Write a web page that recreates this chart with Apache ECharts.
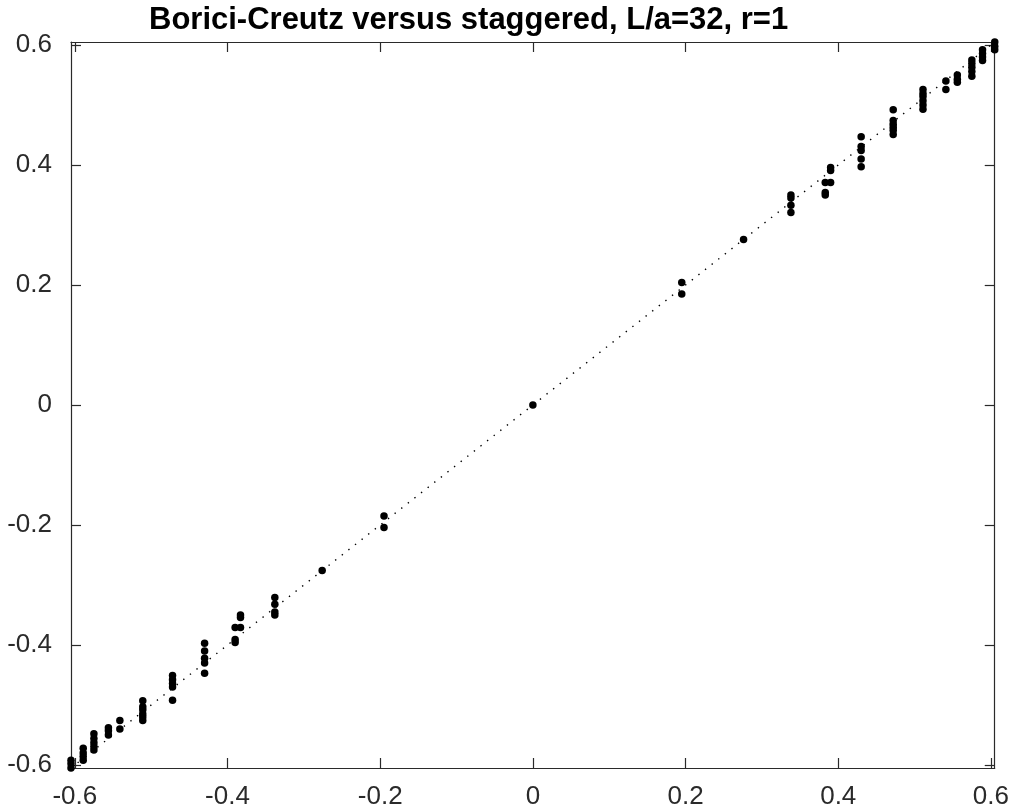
<!DOCTYPE html>
<html>
<head>
<meta charset="utf-8">
<script src="https://cdn.jsdelivr.net/npm/echarts@6/dist/echarts.min.js"></script>
<style>
  html, body { margin: 0; padding: 0; background: #fff; }
  #chart { width: 1012px; height: 811px; }
</style>
</head>
<body>
<div id="chart"></div>
<script>
// Eigenvalues: staggered (x) against Borici-Creutz (y), one entry per point
const staggered = [
  0.605, 0.605, 0.605,
  0.589, 0.589, 0.589, 0.589,
  0.575, 0.575, 0.575, 0.575, 0.575,
  0.556, 0.556, 0.556,
  0.541, 0.541,
  0.511, 0.511, 0.511, 0.511, 0.511, 0.511,
  0.472, 0.472, 0.472, 0.472, 0.472, 0.472,
  0.430, 0.430, 0.430, 0.430, 0.430,
  0.390, 0.390, 0.390,
  0.383, 0.383, 0.383,
  0.338, 0.338, 0.338, 0.338,
  0.276,
  0.195, 0.195,
  0,
  -0.195, -0.195,
  -0.276,
  -0.338, -0.338, -0.338, -0.338,
  -0.383, -0.383, -0.383,
  -0.390, -0.390, -0.390,
  -0.430, -0.430, -0.430, -0.430, -0.430,
  -0.472, -0.472, -0.472, -0.472, -0.472,
  -0.511, -0.511, -0.511, -0.511, -0.511, -0.511,
  -0.541, -0.541,
  -0.556, -0.556, -0.556,
  -0.575, -0.575, -0.575, -0.575, -0.575,
  -0.589, -0.589, -0.589, -0.589,
  -0.605, -0.605, -0.605
];
const boriciCreutz = [
  0.605, 0.598, 0.592,
  0.592, 0.586, 0.580, 0.574,
  0.575, 0.569, 0.563, 0.556, 0.548,
  0.550, 0.543, 0.538,
  0.540, 0.526,
  0.526, 0.519, 0.514, 0.507, 0.500, 0.493,
  0.492, 0.474, 0.468, 0.463, 0.458, 0.451,
  0.447, 0.431, 0.424, 0.410, 0.397,
  0.396, 0.391, 0.371,
  0.371, 0.354, 0.350,
  0.350, 0.345, 0.333, 0.321,
  0.276,
  0.204, 0.185,
  0,
  -0.185, -0.204,
  -0.276,
  -0.321, -0.332, -0.345, -0.350,
  -0.350, -0.354, -0.371,
  -0.371, -0.391, -0.396,
  -0.397, -0.410, -0.422, -0.430, -0.447,
  -0.451, -0.458, -0.464, -0.470, -0.492,
  -0.493, -0.503, -0.508, -0.515, -0.520, -0.526,
  -0.526, -0.540,
  -0.538, -0.543, -0.550,
  -0.548, -0.556, -0.563, -0.569, -0.575,
  -0.572, -0.580, -0.586, -0.592,
  -0.592, -0.598, -0.605
];
// Reference diagonal y = x across the plotted range
const diagonal = [-0.605, 0.605];
const tickValues = [-0.6, -0.4, -0.2, 0, 0.2, 0.4, 0.6];
const axisRange = [-0.605, 0.605];

const points = staggered.map((x, i) => [x, boriciCreutz[i]]);
const diagonalLine = diagonal.map(v => [v, v]);

const FONT = '"Liberation Sans", Arial, Helvetica, sans-serif';
const lineCol = '#2a2a2a';

function makeAxis(position, withLabels, vertical) {
  return {
    type: 'value',
    position: position,
    min: axisRange[0],
    max: axisRange[1],
    axisLine: { show: true, onZero: false, lineStyle: { color: lineCol, width: 1.2 } },
    axisTick: {
      show: true, inside: true, length: 10,
      customValues: tickValues,
      lineStyle: { color: lineCol, width: 1.2 }
    },
    axisLabel: {
      show: withLabels,
      customValues: tickValues,
      color: '#2a2a2a',
      fontFamily: FONT,
      fontSize: 26,
      margin: vertical ? 19 : 16
    },
    splitLine: { show: false }
  };
}

const chart = echarts.init(document.getElementById('chart'), null, { renderer: 'canvas' });
chart.setOption({
  animation: false,
  backgroundColor: '#fff',
  title: {
    text: 'Borici-Creutz versus staggered, L/a=32, r=1',
    left: 144,
    top: 0,
    textStyle: { fontFamily: FONT, fontWeight: 'bold', fontSize: 31, color: '#000' }
  },
  grid: { left: 71, right: 14, top: 42, bottom: 43, containLabel: false },
  xAxis: [makeAxis('bottom', true, false), makeAxis('top', false, false)],
  yAxis: [makeAxis('left', true, true), makeAxis('right', false, true)],
  series: [
    {
      type: 'line',
      data: diagonalLine,
      symbol: 'none',
      lineStyle: { color: '#000', width: 1.4, type: [1.4, 7], opacity: 1 },
      silent: true,
      z: 1
    },
    {
      type: 'scatter',
      data: points,
      symbol: 'circle',
      symbolSize: 7.5,
      itemStyle: { color: '#000', opacity: 1 },
      z: 2
    }
  ]
});
</script>
</body>
</html>
